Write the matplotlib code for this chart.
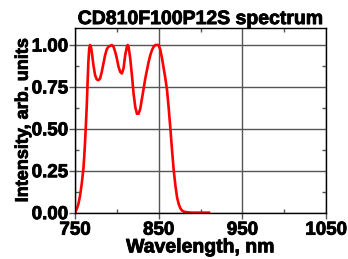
import matplotlib
matplotlib.use("Agg")
import matplotlib.pyplot as plt
import matplotlib.patheffects as pe
from matplotlib.ticker import MultipleLocator

plt.rcParams['font.family'] = ['Liberation Sans', 'DejaVu Sans']
plt.rcParams['font.weight'] = 'bold'

# wavelength (nm) and normalised intensity
wavelength = [750, 752, 754, 756, 758, 760, 761, 762, 763, 764, 765, 766, 767, 768,
              769, 770, 772, 774, 776, 778, 780, 782, 784, 786, 788, 790, 792, 794,
              796, 798, 800, 802, 804, 806, 808, 810, 812, 813, 814, 816, 818, 820,
              822, 824, 826, 828, 830, 832, 834, 836, 838, 840, 842, 844, 846, 848,
              850, 852, 854, 856, 858, 860, 862, 864, 866, 868, 870, 872, 874, 876,
              878, 880, 884, 890, 900, 910]
intensity = [0.0, 0.02, 0.05, 0.10, 0.17, 0.26, 0.33, 0.42, 0.52, 0.63, 0.77, 0.90, 0.98, 1.0,
             0.99, 0.96, 0.88, 0.82, 0.795, 0.79, 0.80, 0.84, 0.89, 0.94, 0.975, 0.99, 0.995, 1.0,
             0.99, 0.96, 0.92, 0.87, 0.84, 0.83, 0.86, 0.94, 0.99, 1.0, 0.99, 0.92, 0.82, 0.71,
             0.63, 0.59, 0.59, 0.62, 0.68, 0.74, 0.80, 0.85, 0.90, 0.94, 0.97, 0.99, 1.0, 1.0,
             1.0, 0.97, 0.92, 0.86, 0.80, 0.73, 0.62, 0.50, 0.37, 0.25, 0.16, 0.09, 0.05, 0.025,
             0.012, 0.006, 0.002, 0.0, 0.0, 0.0]

x_ticks = [750, 850, 950, 1050]
y_ticks = [0.00, 0.25, 0.50, 0.75, 1.00]

# slightly heavier text, like the original
heavy = [pe.withStroke(linewidth=0.6, foreground='black')]

fig = plt.figure(figsize=(3.48, 2.59), dpi=100)
ax = fig.add_axes([0.2155, 0.179, 0.7215, 0.712])

ax.plot(wavelength, intensity, color='#ff0000', linewidth=1.9)

ax.set_xlim(750, 1050)
ax.set_ylim(0, 1.1)
ax.set_xticks(x_ticks)
ax.set_xticklabels([str(v) for v in x_ticks], fontsize=13.5, fontweight='bold',
                   path_effects=heavy)
ax.set_yticks(y_ticks)
ax.set_yticklabels(['%.2f' % v for v in y_ticks], fontsize=13.5, fontweight='bold',
                   path_effects=heavy)
ax.xaxis.set_minor_locator(MultipleLocator(50))
ax.yaxis.set_minor_locator(MultipleLocator(0.125))

ax.grid(True, which='major', color='#555555', linewidth=1.0)
ax.tick_params(which='major', direction='out', length=4, width=1, pad=1, color='#555555')
ax.tick_params(axis='x', which='major', pad=2.5)
ax.tick_params(which='minor', direction='in', length=3, width=1, top=True, right=True,
               color='#555555')
for s in ax.spines.values():
    s.set_linewidth(1.0)
    s.set_color('#000000')

ax.set_title('CD810F100P12S spectrum', fontsize=14, fontweight='bold', pad=3,
             path_effects=heavy)
ax.set_xlabel('Wavelength, nm', fontsize=14, fontweight='bold', labelpad=0.5,
              path_effects=heavy)
ax.set_ylabel('Intensity, arb. units', fontsize=13, fontweight='bold', labelpad=0,
              path_effects=heavy)

fig.savefig('out.png', dpi=100)
